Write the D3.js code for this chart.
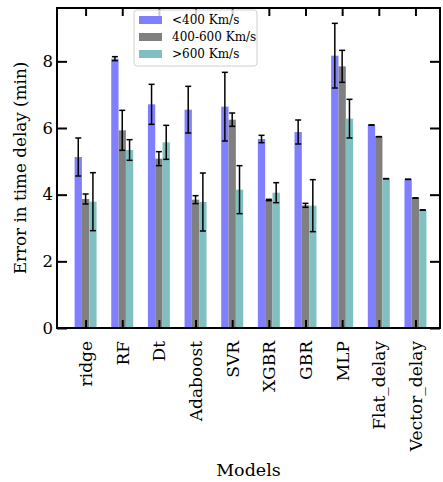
<!DOCTYPE html>
<html>
<head>
<meta charset="utf-8">
<script src="https://cdn.jsdelivr.net/npm/d3@7"></script>
<style>
  body { margin: 0; background: #fff; }
  svg text { font-family: "DejaVu Serif", serif; fill: #000; }
</style>
</head>
<body>
<svg id="chart" width="443" height="482"></svg>
<script>
// chart values
const models = ['ridge', 'RF', 'Dt', 'Adaboost', 'SVR', 'XGBR', 'GBR', 'MLP', 'Flat_delay', 'Vector_delay'];
const seriesNames = ['<400 Km/s', '400-600 Km/s', '>600 Km/s'];
const slowValues = [5.13, 8.08, 6.71, 6.55, 6.64, 5.67, 5.88, 8.17, 6.09, 4.46];
const slowErrors = [0.57, 0.06, 0.60, 0.70, 1.03, 0.11, 0.36, 0.97, 0, 0];
const midValues = [3.87, 5.93, 5.08, 3.85, 6.25, 3.84, 3.68, 7.85, 5.74, 3.90];
const midErrors = [0.15, 0.60, 0.21, 0.12, 0.20, 0.02, 0.06, 0.48, 0, 0];
const fastValues = [3.79, 5.34, 5.57, 3.78, 4.15, 4.06, 3.67, 6.28, 4.48, 3.54];
const fastErrors = [0.87, 0.31, 0.51, 0.87, 0.72, 0.30, 0.78, 0.58, 0, 0];
const yTicks = [0, 2, 4, 6, 8];

const colors = ['#8080ff', '#808080', '#80c0c0'];
const offsets = [-0.2, 0, 0.2];
const barWidth = 0.2;

const W = 443, H = 482;
const margin = { top: 8, right: 3, bottom: 154, left: 57 };

const svg = d3.select('#chart');

const x = d3.scaleLinear().domain([-0.78, 9.67]).range([margin.left, W - margin.right]);
const y = d3.scaleLinear().domain([0, 9.6]).range([H - margin.bottom, margin.top]);

const series = [
  { values: slowValues, errors: slowErrors },
  { values: midValues, errors: midErrors },
  { values: fastValues, errors: fastErrors },
];

// bars
series.forEach((s, k) => {
  svg.append('g')
    .selectAll('rect')
    .data(s.values)
    .join('rect')
    .attr('x', (d, i) => x(i + offsets[k] - barWidth / 2))
    .attr('width', x(barWidth) - x(0))
    .attr('y', d => y(d))
    .attr('height', d => y(0) - y(d))
    .attr('fill', colors[k]);
});

// error bars
series.forEach((s, k) => {
  const g = svg.append('g').attr('stroke', '#000').attr('stroke-width', 1.5);
  s.values.forEach((v, i) => {
    const cx = x(i + offsets[k]);
    const e = s.errors[i];
    g.append('line').attr('x1', cx).attr('x2', cx).attr('y1', y(v - e)).attr('y2', y(v + e));
    [v - e, v + e].forEach(t => {
      g.append('line').attr('x1', cx - 3).attr('x2', cx + 3).attr('y1', y(t)).attr('y2', y(t));
    });
  });
});

// axes (ticks pointing inward on all four sides)
const idx = d3.range(models.length);
const bottomAxis = d3.axisBottom(x).tickValues(idx).tickFormat(i => models[i]).tickSize(-8);
const topAxis = d3.axisTop(x).tickValues(idx).tickFormat('').tickSize(-8);
const leftAxis = d3.axisLeft(y).tickValues(yTicks).tickFormat(d3.format('d')).tickSize(-10).tickPadding(4);
const rightAxis = d3.axisRight(y).tickValues(yTicks).tickFormat('').tickSize(-10);

function styleAxis(g) {
  g.select('.domain').remove();
  g.selectAll('.tick line').attr('stroke', '#000').attr('stroke-width', 2);
  g.selectAll('text').attr('font-family', '"DejaVu Serif", serif').attr('fill', '#000');
}

const gx = svg.append('g').attr('transform', `translate(0,${y(0)})`).call(bottomAxis).call(styleAxis);
gx.selectAll('.tick text')
  .attr('font-size', 17)
  .attr('text-anchor', 'end')
  .attr('dy', '0.35em')
  .attr('transform', 'rotate(-90)')
  .attr('x', -13)
  .attr('y', 0);

svg.append('g').attr('transform', `translate(0,${margin.top})`).call(topAxis).call(styleAxis);
const gy = svg.append('g').attr('transform', `translate(${margin.left},0)`).call(leftAxis).call(styleAxis);
gy.selectAll('.tick text').attr('font-size', 16.5);
svg.append('g').attr('transform', `translate(${W - margin.right},0)`).call(rightAxis).call(styleAxis);

// frame
svg.append('rect')
  .attr('x', margin.left).attr('y', margin.top)
  .attr('width', W - margin.right - margin.left)
  .attr('height', y(0) - margin.top)
  .attr('fill', 'none').attr('stroke', '#000').attr('stroke-width', 2);

// axis titles
svg.append('text')
  .attr('transform', `translate(26,${(margin.top + y(0)) / 2}) rotate(-90)`)
  .attr('text-anchor', 'middle')
  .attr('font-size', 16.8)
  .text('Error in time delay (min)');

svg.append('text')
  .attr('x', (margin.left + W - margin.right) / 2)
  .attr('y', 476)
  .attr('text-anchor', 'middle')
  .attr('font-size', 17.5)
  .text('Models');

// legend
const legend = svg.append('g').attr('transform', 'translate(134,10)');
legend.append('rect')
  .attr('width', 123).attr('height', 56).attr('rx', 3)
  .attr('fill', '#fff').attr('fill-opacity', 0.8)
  .attr('stroke', '#d0d0d0');
seriesNames.forEach((name, k) => {
  const row = legend.append('g').attr('transform', `translate(0,${10 + k * 17})`);
  row.append('rect').attr('x', 5).attr('y', -4).attr('width', 23).attr('height', 8).attr('fill', colors[k]);
  row.append('text').attr('x', 38).attr('y', 0).attr('dy', '0.35em').attr('font-size', 12).text(name);
});
</script>
</body>
</html>
